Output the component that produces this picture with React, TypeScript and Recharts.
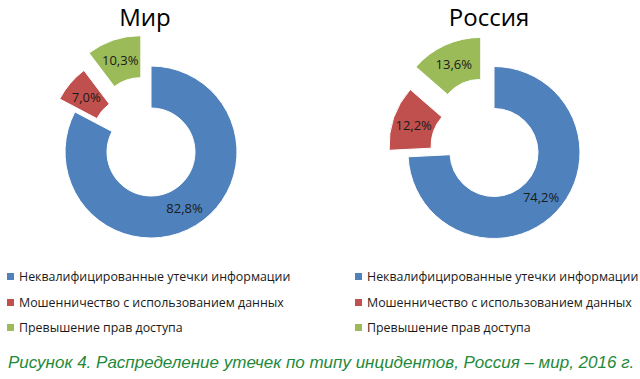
import { PieChart, Pie, Cell } from 'recharts'

const categories = [
  'Неквалифицированные утечки информации',
  'Мошенничество с использованием данных',
  'Превышение прав доступа',
]
const worldValues = [82.8, 7.0, 10.3]
const russiaValues = [74.2, 12.2, 13.6]
const worldLabels = ['82,8%', '7,0%', '10,3%']
const russiaLabels = ['74,2%', '12,2%', '13,6%']

const colors = ['#4F81BD', '#C0504D', '#9BBB59']
// how far each slice is pulled out of the ring
const explode = [0, 20, 32]
const RADIAN = Math.PI / 180
const INNER = 44
const OUTER = 86

function sliceOffset(values: number[], i: number) {
  const total = values.reduce((a, b) => a + b, 0)
  const before = values.slice(0, i).reduce((a, b) => a + b, 0)
  const mid = 90 - ((before + values[i] / 2) / total) * 360
  return { dx: explode[i] * Math.cos(mid * RADIAN), dy: -explode[i] * Math.sin(mid * RADIAN) }
}

function renderDonut(key: string, values: number[], labels: string[], cx: number, cy: number) {
  const data = values.map((value, i) => ({ name: categories[i], value, label: labels[i] }))
  return values.map((_, shown) => {
    const { dx, dy } = sliceOffset(values, shown)
    return (
      <Pie
        key={`${key}-${shown}`}
        data={data}
        dataKey="value"
        cx={cx + dx}
        cy={cy + dy}
        innerRadius={INNER}
        outerRadius={OUTER}
        startAngle={90}
        endAngle={-270}
        isAnimationActive={false}
        labelLine={false}
        label={(props: any) => {
          if (props.index !== shown) return null
          const r = (props.innerRadius + props.outerRadius) / 2
          const x = props.cx + r * Math.cos(-props.midAngle * RADIAN)
          const y = props.cy + r * Math.sin(-props.midAngle * RADIAN)
          return (
            <text
              x={x}
              y={y}
              fill="#1a1a1a"
              fontSize={13}
              fontFamily="'Open Sans', sans-serif"
              textAnchor="middle"
              dominantBaseline="central"
            >
              {labels[props.index]}
            </text>
          )
        }}
      >
        {data.map((d, i) => (
          <Cell
            key={d.name}
            fill={i === shown ? colors[i] : 'transparent'}
            stroke={i === shown ? '#ffffff' : 'none'}
            strokeWidth={1}
          />
        ))}
      </Pie>
    )
  })
}

function LegendBlock({ left }: { left: number }) {
  return (
    <div style={{ position: 'absolute', left, top: 264 }}>
      {categories.map((c, i) => (
        <div
          key={c}
          style={{
            display: 'flex',
            alignItems: 'center',
            height: 25.5,
            fontSize: 12.4,
            color: '#1a1a1a',
            whiteSpace: 'nowrap',
          }}
        >
          <span style={{ width: 7, height: 7, background: colors[i], marginRight: 5, display: 'inline-block' }} />
          {c}
        </div>
      ))}
    </div>
  )
}

export default function App() {
  const font = "'Open Sans', sans-serif"
  const title = {
    position: 'absolute' as const,
    width: 120,
    top: 5,
    textAlign: 'center' as const,
    fontSize: 24,
    lineHeight: '24px',
    color: '#000',
  }
  return (
    <div
      style={{
        position: 'absolute',
        left: 0,
        top: 0,
        width: 640,
        height: 379,
        background: '#fff',
        fontFamily: font,
        overflow: 'hidden',
      }}
    >
      <PieChart width={640} height={260} style={{ position: 'absolute', left: 0, top: 0 }}>
        {renderDonut('world', worldValues, worldLabels, 146, 147)}
        {renderDonut('russia', russiaValues, russiaLabels, 489, 147.5)}
      </PieChart>
      <div style={{ ...title, left: 85 }}>Мир</div>
      <div style={{ ...title, left: 429 }}>Россия</div>
      <LegendBlock left={7} />
      <LegendBlock left={355} />
      <div
        style={{
          position: 'absolute',
          left: 8,
          top: 353,
          fontFamily: "'Liberation Sans', Arial, sans-serif",
          fontStyle: 'italic',
          fontSize: 17,
          color: '#1E8A3A',
          whiteSpace: 'nowrap',
        }}
      >
        Рисунок 4. Распределение утечек по типу инцидентов, Россия – мир, 2016 г.
      </div>
    </div>
  )
}
